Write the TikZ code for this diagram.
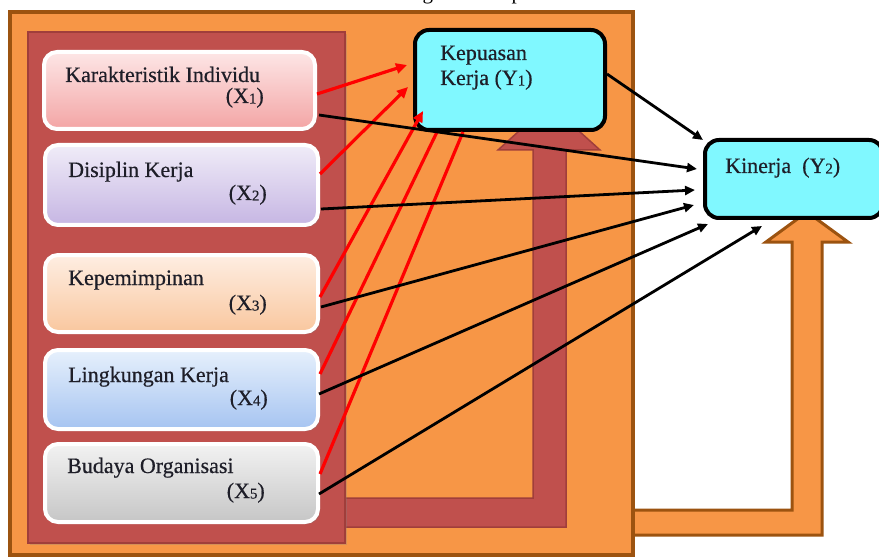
\documentclass[tikz,border=0pt]{standalone}
\usepackage{fontspec}
\setmainfont{Liberation Serif}
\newfontfamily\lblfont{Liberation Serif}[FakeBold=0.5]
\usetikzlibrary{arrows.meta,shadows}

\definecolor{orFill}{HTML}{F79646}
\definecolor{orLine}{HTML}{9C5310}
\definecolor{rdFill}{HTML}{C0504D}
\definecolor{rdLine}{HTML}{A03E3B}
\definecolor{cyFill}{HTML}{80F8FF}
\definecolor{txt}{HTML}{1E1E28}
\definecolor{pinkTop}{HTML}{FDE6E6}\definecolor{pinkBot}{HTML}{F3A5A5}
\definecolor{lavTop}{HTML}{F0ECF8}\definecolor{lavBot}{HTML}{C6B6E3}
\definecolor{peachTop}{HTML}{FEEEE2}\definecolor{peachBot}{HTML}{F9C79F}
\definecolor{bluTop}{HTML}{E6F0FC}\definecolor{bluBot}{HTML}{A6C4F1}
\definecolor{gryTop}{HTML}{F2F2F2}\definecolor{gryBot}{HTML}{C6C6C6}

% small index digit after X / Y
\newcommand\idx[1]{\raisebox{-0.5pt}{\fontsize{15}{15}\selectfont #1}}

\begin{document}
\begin{tikzpicture}[x=1pt,y=-1pt,
  varbox/.style={draw=white, line width=4pt, rounded corners=13pt, anchor=north west,
    inner sep=0pt, drop shadow={shadow xshift=2pt,shadow yshift=-2pt,opacity=0.35}},
  depbox/.style={draw=black, line width=4pt, rounded corners=14pt, fill=cyFill,
    anchor=north west, inner sep=0pt},
  lbl/.style={font=\lblfont\fontsize{22}{24}\selectfont, text=txt, inner sep=0pt},
  redarr/.style={draw=red, line width=3.2pt, -{Triangle[length=11pt,width=10pt]}},
  redln/.style={draw=red, line width=3.2pt},
  blkarr/.style={draw=black, line width=2.8pt, -{Triangle[length=10pt,width=9pt]}},
]
\clip (0,0) rectangle (879,559);
\fill[white] (0,0) rectangle (879,559);

% caption above the frame, mostly beyond the top edge
\node[font=\fontsize{21}{24}\selectfont, inner sep=0pt, anchor=base west, text=black] (cap) at (371,-0.5) {Kerangka Konseptual};

% orange bent arrow leading up to Kinerja
\draw[fill=orFill, draw=orLine, line width=3pt, line join=miter]
  (620,510) -- (792,510) -- (792,242) -- (766,242) -- (807,212) -- (848,242)
  -- (822,242) -- (822,535) -- (620,535) -- cycle;

% outer orange frame
\draw[fill=orFill, draw=orLine, line width=4.5pt,
  drop shadow={shadow xshift=2pt,shadow yshift=-2pt,opacity=0.2}] (10,12) rectangle (633,555);

% red bent arrow leading up to Kepuasan Kerja
\draw[fill=rdFill, draw=rdLine, line width=1.5pt, line join=miter]
  (330,498) -- (533,498) -- (533,150) -- (498,150) -- (549,104) -- (600,150)
  -- (566,150) -- (566,527) -- (330,527) -- cycle;

% inner red panel
\draw[fill=rdFill, draw=rdLine, line width=2.5pt,
  drop shadow={shadow xshift=2pt,shadow yshift=-2pt,opacity=0.3}] (28,32) rectangle (345,543);

% independent variables
\node[varbox, top color=pinkTop, bottom color=pinkBot, minimum width=271pt, minimum height=77pt] (x1) at (42,50) {};
\node[varbox, top color=lavTop, bottom color=lavBot, minimum width=273pt, minimum height=80pt] (x2) at (43,143) {};
\node[varbox, top color=peachTop, bottom color=peachBot, minimum width=273pt, minimum height=77pt] (x3) at (43,253) {};
\node[varbox, top color=bluTop, bottom color=bluBot, minimum width=273pt, minimum height=79pt] (x4) at (43,348) {};
\node[varbox, top color=gryTop, bottom color=gryBot, minimum width=273pt, minimum height=78pt] (x5) at (43,442) {};

\node[lbl, anchor=base west] (x1a) at (65,82) {Karakteristik Individu};
\node[lbl, anchor=base east] (x1b) at (264,103) {(X\idx{1})};
\node[lbl, anchor=base west] (x2a) at (68,177) {Disiplin Kerja};
\node[lbl, anchor=base east] (x2b) at (267,200) {(X\idx{2})};
\node[lbl, anchor=base west] (x3a) at (68,285) {Kepemimpinan};
\node[lbl, anchor=base east] (x3b) at (267,310) {(X\idx{3})};
\node[lbl, anchor=base west] (x4a) at (68,382) {Lingkungan Kerja};
\node[lbl, anchor=base east] (x4b) at (268,405) {(X\idx{4})};
\node[lbl, anchor=base west] (x5a) at (67,473) {Budaya Organisasi};
\node[lbl, anchor=base east] (x5b) at (265,498) {(X\idx{5})};

% dependent variables
\node[depbox, minimum width=190pt, minimum height=100pt] (ky) at (413,28) {};
\node[lbl, anchor=base west] (kya) at (440,60) {Kepuasan};
\node[lbl, anchor=base west] (kyb) at (440,85) {Kerja (Y\idx{1})};
\node[depbox, minimum width=178pt, minimum height=78pt] (kn) at (703,138) {};
\node[lbl, anchor=base west] (kna) at (725,173) {Kinerja~ (Y\idx{2})};

% paths to Kepuasan Kerja
\draw[redarr] ([yshift=-3.5pt]x1.east) -- ([xshift=-6pt,yshift=15pt]ky.west);
\draw[redarr] ([yshift=11pt]x2.east) -- ([xshift=-5pt,yshift=-7pt]ky.west);
\draw[redarr] ([yshift=-3.5pt]x3.east) -- ([xshift=10pt,yshift=21pt]ky.south west);
\draw[redln] ([yshift=15.5pt]x4.east) -- ([xshift=24pt]ky.south west);
\draw[redln] ([yshift=9pt]x5.east) -- ([xshift=50pt]ky.south west);

% paths to Kinerja
\draw[blkarr] ([yshift=6pt]ky.east) -- ([yshift=-2pt]kn.north west);
\draw[blkarr] ([xshift=2pt,yshift=-24.5pt]x1.east) -- ([xshift=-6pt,yshift=10pt]kn.west);
\draw[blkarr] ([xshift=1pt,yshift=-24pt]x2.east) -- ([xshift=-8pt,yshift=-11pt]kn.west);
\draw[blkarr] ([xshift=1pt,yshift=-13.5pt]x3.east) -- ([xshift=-9pt,yshift=-26pt]kn.west);
\draw[blkarr] ([xshift=-1pt,yshift=-4.5pt]x4.east) -- ([xshift=5pt,yshift=-4pt]kn.south west);
\draw[blkarr] ([xshift=-1pt,yshift=-11pt]x5.east) -- ([xshift=59pt,yshift=-6pt]kn.south west);
\end{tikzpicture}
\end{document}
